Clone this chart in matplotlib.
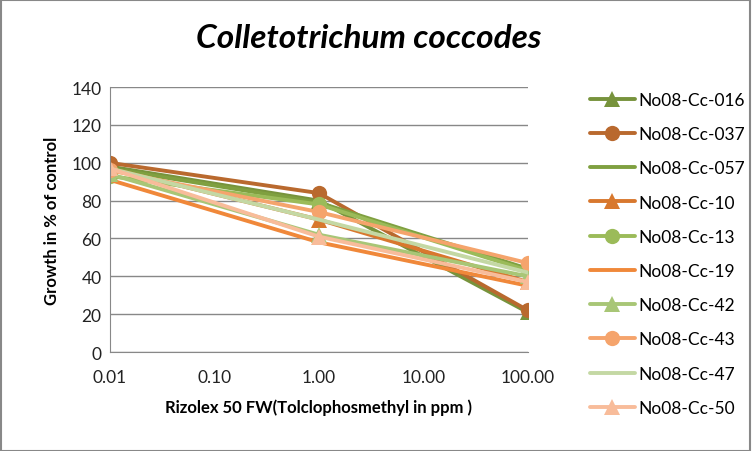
import matplotlib
matplotlib.use("Agg")
import matplotlib.pyplot as plt
from matplotlib.patches import Rectangle

plt.rcParams["font.family"] = ["Lato", "DejaVu Sans"]

# data
concentrations = [0.01, 1.0, 100.0]
isolates = ["No08-Cc-016", "No08-Cc-037", "No08-Cc-057", "No08-Cc-10", "No08-Cc-13",
            "No08-Cc-19", "No08-Cc-42", "No08-Cc-43", "No08-Cc-47", "No08-Cc-50"]
cc_016 = [98, 80, 21]
cc_037 = [100, 84, 22]
cc_057 = [97, 79, 44]
cc_10 = [97, 70, 37]
cc_13 = [93, 78, 43]
cc_19 = [91, 58, 35]
cc_42 = [94, 62, 40]
cc_43 = [96, 74, 47]
cc_47 = [97, 70, 42]
cc_50 = [97, 61, 37]
series = [cc_016, cc_037, cc_057, cc_10, cc_13, cc_19, cc_42, cc_43, cc_47, cc_50]

colors = ["#77933C", "#B9692E", "#7FA040", "#D8782E", "#9BBB59",
          "#F0883A", "#A8C676", "#F5A46C", "#C4D8A4", "#F8BC9A"]
markers = ["^", "o", None, "^", "o", None, "^", "o", None, "^"]

fig = plt.figure(figsize=(7.52, 4.52), dpi=100)
ax = fig.add_axes([0.146, 0.219, 0.556, 0.586])

for name, vals, c, m in zip(isolates, series, colors, markers):
    ax.plot(concentrations, vals, color=c, lw=2.8, marker=m, markersize=11,
            markeredgewidth=0, label=name, solid_capstyle="round")

ax.set_xscale("log")
ax.set_xlim(0.01, 100)
ax.set_ylim(0, 140)
ax.set_yticks(range(0, 141, 20))
ax.set_xticks([0.01, 0.1, 1, 10, 100])
ax.set_xticklabels(["0.01", "0.10", "1.00", "10.00", "100.00"])
ax.minorticks_off()
ax.tick_params(labelsize=12.5, colors="#222222", length=0)
ax.tick_params(axis="x", pad=12)
ax.tick_params(axis="y", pad=6)
ax.yaxis.grid(True, color="#888888", lw=1)
ax.set_axisbelow(True)
for s in ["top", "right"]:
    ax.spines[s].set_visible(False)
for s in ["left", "bottom"]:
    ax.spines[s].set_color("#888888")
for lbl in ax.get_xticklabels() + ax.get_yticklabels():
    lbl.set_clip_on(False)

ax.set_xlabel("Rizolex 50 FW(Tolclophosmethyl in ppm )", fontsize=12, fontweight="bold", labelpad=10)
ax.set_ylabel("Growth in % of control", fontsize=12, fontweight="bold", labelpad=8)
fig.text(0.49, 0.915, "Colletotrichum coccodes", fontsize=24, fontweight="bold",
         fontstyle="italic", ha="center", va="center")

leg = fig.legend(loc="upper left", bbox_to_anchor=(0.775, 0.81), frameon=False,
                 fontsize=12.5, handlelength=2.6, labelspacing=1.05, handletextpad=0.2,
                 borderaxespad=0)

fig.patches.append(Rectangle((0.001, 0.001), 0.997, 0.997, transform=fig.transFigure,
                             fill=False, edgecolor="#888888", lw=1.5))

fig.savefig("out.png", dpi=100)
